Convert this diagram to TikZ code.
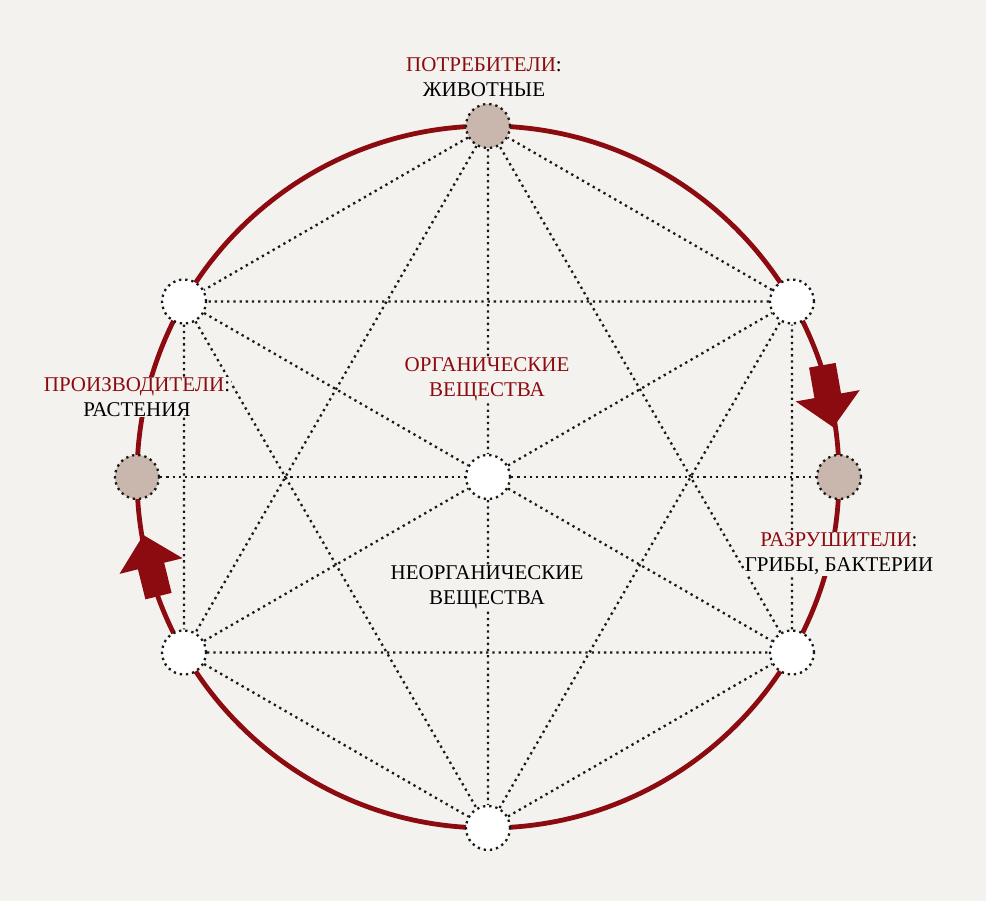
\documentclass[tikz,border=0pt]{standalone}
\usepackage{fontspec}
\setmainfont{Liberation Serif}
\definecolor{paper}{HTML}{F4F2EE}
\definecolor{dred}{HTML}{8C0B10}
\definecolor{taupe}{HTML}{C9B7AD}
\tikzset{
  link/.style={line width=2.3pt,line cap=butt,dash pattern=on 2.3pt off 3.9pt,black!90},
  hub/.style={circle,minimum size=44pt,inner sep=0pt,draw,link,fill=white},
  hubfull/.style={hub,fill=taupe},
  lbl/.style={align=center,fill=paper,inner sep=0.5pt,font=\fontsize{21}{25}\selectfont}
}
\begin{document}
\begin{tikzpicture}[line cap=round,line join=round,x=1pt,y=1pt]
\fill[paper] (0,0) rectangle (986,901);
\useasboundingbox (0,0) rectangle (986,901);
\coordinate (O) at (488,424);
\draw[dred,line width=4.8pt] (O) circle (351);
% nodes on the ring
\node[hubfull] (top) at ([shift={(90:351)}]O) {};
\node[hub] (ul) at ([shift={(150:351)}]O) {};
\node[hubfull] (left) at ([shift={(180:351)}]O) {};
\node[hub] (ll) at ([shift={(210:351)}]O) {};
\node[hub] (bot) at ([shift={(270:351)}]O) {};
\node[hub] (lr) at ([shift={(330:351)}]O) {};
\node[hubfull] (right) at ([shift={(0:351)}]O) {};
\node[hub] (ur) at ([shift={(30:351)}]O) {};
\node[hub] (mid) at (O) {};
% dotted links
\draw[link] (top)--(ul) (ul)--(ll) (ll)--(bot) (bot)--(lr) (lr)--(ur) (ur)--(top);
\draw[link] (top)--(ll) (ul)--(bot) (ll)--(lr) (bot)--(ur) (lr)--(top) (ur)--(ul);
\draw[link] (top)--(mid) (mid)--(bot) (ul)--(mid) (mid)--(lr) (ll)--(mid) (mid)--(ur);
\draw[link] (left)--(mid) (mid)--(right);
% arrows
\fill[dred,shift={(143.3,366)},rotate=104] (0,0)--(-32,32.5)--(-32,13.5)--(-63,13.5)--(-63,-13.5)--(-32,-13.5)--(-32,-32.5)--cycle;
\fill[dred,shift={(833.3,473.7)},rotate=-80] (0,0)--(-32,32.5)--(-32,13.5)--(-63,13.5)--(-63,-13.5)--(-32,-13.5)--(-32,-32.5)--cycle;
% labels
\node[lbl] (cons) at (484,824) {{\color{dred}ПОТРЕБИТЕЛИ}:\\ЖИВОТНЫЕ};
\node[lbl] (prod) at (137,504) {{\color{dred}ПРОИЗВОДИТЕЛИ}:\\РАСТЕНИЯ};
\node[lbl] (dec) at (839,347) {{\color{dred}РАЗРУШИТЕЛИ}:\\ГРИБЫ, БАКТЕРИИ};
\node[lbl,text=dred] (org) at (487,522) {ОРГАНИЧЕСКИЕ\\ВЕЩЕСТВА};
\node[lbl] (inorg) at (487,314) {НЕОРГАНИЧЕСКИЕ\\ВЕЩЕСТВА};
\end{tikzpicture}
\end{document}
